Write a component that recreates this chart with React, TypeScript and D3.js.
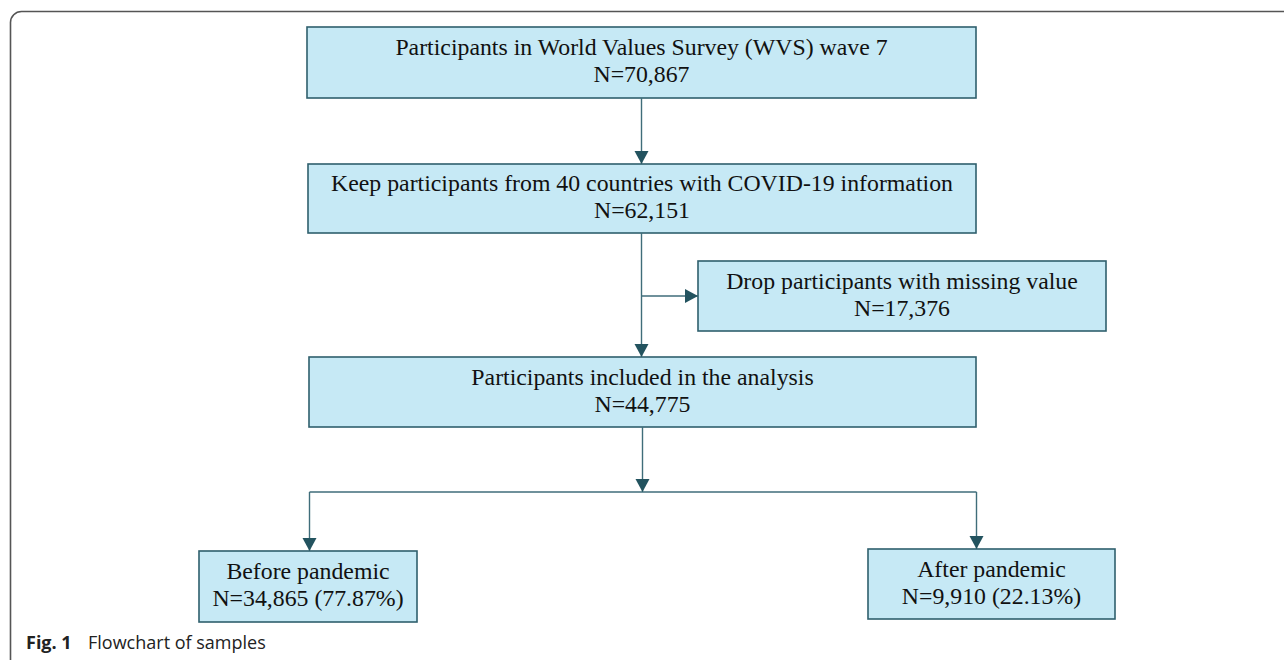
import { useEffect, useRef } from 'react';
import * as d3 from 'd3';

// Flowchart content
const stepLabels = [
  'Participants in World Values Survey (WVS) wave 7',
  'Keep participants from 40 countries with COVID-19 information',
  'Drop participants with missing value',
  'Participants included in the analysis',
  'Before pandemic',
  'After pandemic',
];
const stepCounts = ['N=70,867', 'N=62,151', 'N=17,376', 'N=44,775', 'N=34,865 (77.87%)', 'N=9,910 (22.13%)'];
const captionLabel = 'Fig. 1';
const captionText = 'Flowchart of samples';

const W = 1284;
const H = 660;

// box layout: x0, y0, x1, y1 (pixels)
const layout: [number, number, number, number][] = [
  [307, 27, 976, 98],
  [308, 164, 976, 233],
  [698, 261, 1106, 331],
  [309, 357, 976, 427],
  [199, 551, 417, 622],
  [868, 549, 1115, 619],
];

const BOX_FILL = '#c6e9f5';
const BOX_STROKE = '#2f5f6d';
const LINE = '#3f6d7a';
const HEAD = '#23535f';

export default function App() {
  const svgRef = useRef<SVGSVGElement>(null);

  useEffect(() => {
    if (!svgRef.current) return;
    const svg = d3.select(svgRef.current);
    svg.selectAll('*').remove();

    // outer frame with rounded top-left corner
    const frame = d3.path();
    frame.moveTo(10.5, H);
    frame.lineTo(10.5, 22);
    frame.arcTo(10.5, 11.5, 21.5, 11.5, 11);
    frame.lineTo(W, 11.5);
    svg
      .append('path')
      .attr('d', frame.toString())
      .attr('fill', 'none')
      .attr('stroke', '#555')
      .attr('stroke-width', 1.6);

    const boxes = stepLabels.map((label, i) => {
      const [x0, y0, x1, y1] = layout[i];
      return { label, count: stepCounts[i], x0, y0, x1, y1, cx: (x0 + x1) / 2, cy: (y0 + y1) / 2 };
    });

    const g = svg.append('g');

    g.selectAll('rect.box')
      .data(boxes)
      .enter()
      .append('rect')
      .attr('class', 'box')
      .attr('x', (d) => d.x0)
      .attr('y', (d) => d.y0)
      .attr('width', (d) => d.x1 - d.x0)
      .attr('height', (d) => d.y1 - d.y0)
      .attr('fill', BOX_FILL)
      .attr('stroke', BOX_STROKE)
      .attr('stroke-width', 1.6);

    const txt = g
      .selectAll('text.lbl')
      .data(boxes)
      .enter()
      .append('text')
      .attr('class', 'lbl')
      .attr('text-anchor', 'middle')
      .style('font-family', '"Liberation Serif", "DejaVu Serif", serif')
      .style('font-size', '23.8px')
      .attr('fill', '#111');
    txt
      .append('tspan')
      .attr('x', (d) => d.cx)
      .attr('y', (d) => d.cy - 7.5)
      .text((d) => d.label);
    txt
      .append('tspan')
      .attr('x', (d) => d.cx)
      .attr('y', (d) => d.cy + 19.5)
      .text((d) => d.count);

    // connectors
    const b = boxes;
    const mid = 641.5;
    const branchY = 296;
    const splitY = 492;
    const segments: [number, number, number, number][] = [
      [mid, b[0].y1, mid, b[1].y0],
      [mid, b[1].y1, mid, b[3].y0],
      [mid, branchY, b[2].x0, branchY],
      [mid + 1, b[3].y1, mid + 1, splitY],
      [309.5, splitY, 976.5, splitY],
      [309.5, splitY, 309.5, b[4].y0],
      [976.5, splitY, 976.5, b[5].y0],
    ];
    g.selectAll('line.conn')
      .data(segments)
      .enter()
      .append('line')
      .attr('x1', (d) => d[0])
      .attr('y1', (d) => d[1])
      .attr('x2', (d) => d[2])
      .attr('y2', (d) => d[3])
      .attr('stroke', LINE)
      .attr('stroke-width', 1.4);

    // arrowheads: tip x, tip y, direction
    const heads: [number, number, 'down' | 'right'][] = [
      [mid, b[1].y0, 'down'],
      [mid, b[3].y0, 'down'],
      [b[2].x0, branchY, 'right'],
      [mid + 1, splitY, 'down'],
      [309.5, b[4].y0, 'down'],
      [976.5, b[5].y0, 'down'],
    ];
    const headPath = ([x, y, dir]: [number, number, string]) => {
      const p = d3.path();
      const len = 13;
      const half = 7;
      if (dir === 'down') {
        p.moveTo(x, y);
        p.lineTo(x - half, y - len);
        p.lineTo(x + half, y - len);
      } else {
        p.moveTo(x, y);
        p.lineTo(x - len, y - half);
        p.lineTo(x - len, y + half);
      }
      p.closePath();
      return p.toString();
    };
    g.selectAll('path.head')
      .data(heads)
      .enter()
      .append('path')
      .attr('d', (d) => headPath(d))
      .attr('fill', HEAD);

    // caption
    const cap = svg
      .append('text')
      .attr('x', 26)
      .attr('y', 649)
      .style('font-family', '"Open Sans", "Noto Sans", sans-serif')
      .style('font-size', '18px')
      .attr('fill', '#222');
    cap.append('tspan').style('font-weight', 700).text(captionLabel);
    cap.append('tspan').attr('x', 88).style('font-weight', 400).text(captionText);
  }, []);

  return (
    <svg
      ref={svgRef}
      width={W}
      height={H}
      style={{ position: 'absolute', left: 0, top: 0, background: '#fff' }}
    />
  );
}
